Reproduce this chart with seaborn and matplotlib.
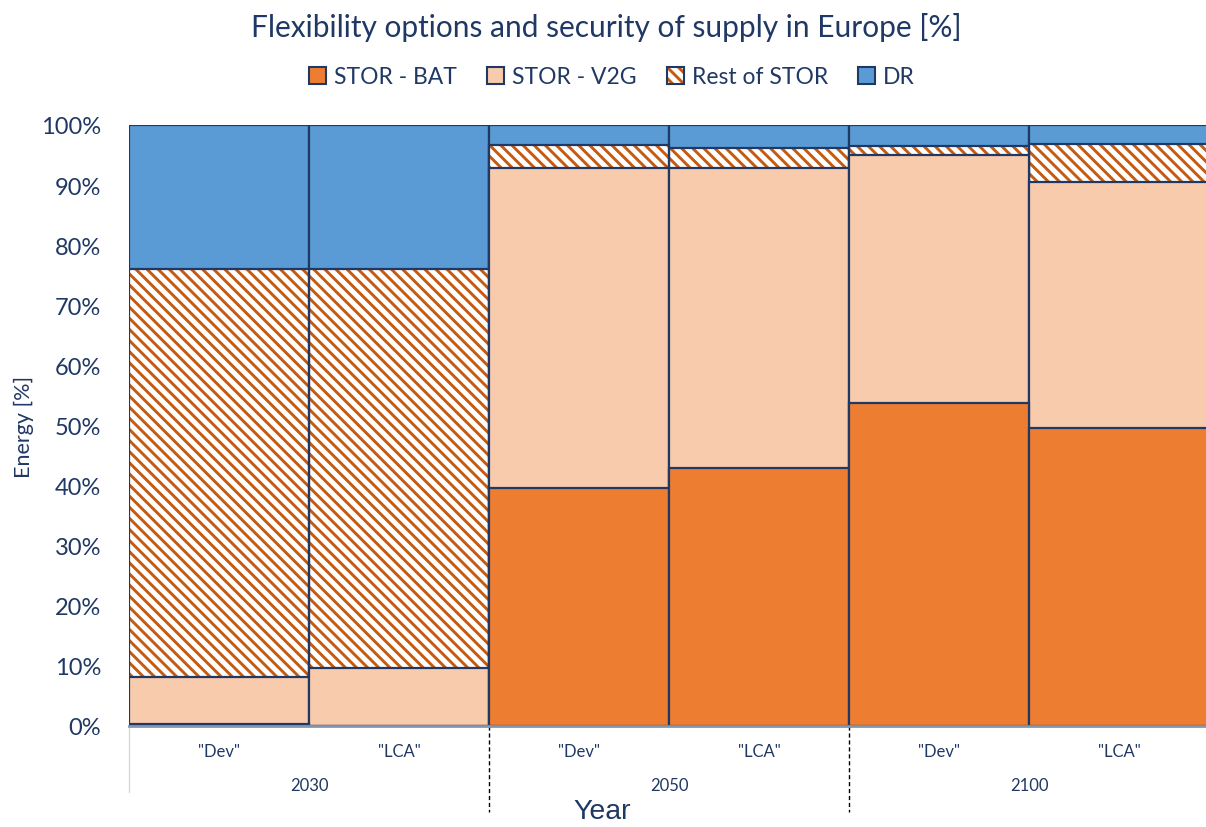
import matplotlib
matplotlib.use("Agg")
import matplotlib.pyplot as plt
import seaborn as sns
from matplotlib.patches import Patch
from matplotlib.legend_handler import HandlerTuple
from matplotlib.ticker import FuncFormatter

# ---- data ----
years = ["2030", "2030", "2050", "2050", "2100", "2100"]
scenarios = ['"Dev"', '"LCA"', '"Dev"', '"LCA"', '"Dev"', '"LCA"']
year_groups = ["2030", "2050", "2100"]
stor_bat = [0.3, 0.0, 39.6, 42.9, 53.7, 49.6]
stor_v2g = [7.9, 9.7, 53.2, 49.9, 41.3, 40.9]
rest_stor = [67.8, 66.3, 3.9, 3.4, 1.5, 6.3]
dr = [24.0, 24.0, 3.3, 3.8, 3.5, 3.2]
series_names = ["STOR - BAT", "STOR - V2G", "Rest of STOR", "DR"]
yticks = list(range(0, 101, 10))

# ---- style ----
C_BAT = "#ED7D31"
C_V2G = "#F8CBAD"
C_HATCH = "#C55A11"
C_DR = "#5B9BD5"
NAVY = "#1F3864"
sns.set_theme(style="white")
plt.rcParams["font.family"] = ["Lato", "DejaVu Sans"]
plt.rcParams["hatch.linewidth"] = 2.1

keys = [f"{y} {s}" for y, s in zip(years, scenarios)]
c_bat = stor_bat
c_v2g = [a + b for a, b in zip(c_bat, stor_v2g)]
c_rest = [a + b for a, b in zip(c_v2g, rest_stor)]
c_dr = [a + b for a, b in zip(c_rest, dr)]

fig = plt.figure(figsize=(12.06, 8.28), dpi=100)
ax = fig.add_axes([129 / 1206, 1 - 727 / 828, 1 - 129 / 1206, (727 - 126) / 828])

ax.axhline(100, color="#D0D0D0", lw=1, zorder=0)


def layer(vals, face, edge=NAVY, lw=1.6, hatch=None):
    n0 = len(ax.patches)
    sns.barplot(x=keys, y=vals, order=keys, color=face, width=1.0,
                saturation=1, ax=ax)
    for p in ax.patches[n0:]:
        p.set_facecolor(face)
        p.set_edgecolor(edge)
        p.set_linewidth(lw)
        if hatch:
            p.set_hatch(hatch)


layer(c_dr, C_DR)
layer(c_rest, "white", edge=C_HATCH, lw=0, hatch="\\\\\\")
layer(c_rest, "none")
layer(c_v2g, C_V2G)
layer(c_bat, C_BAT)

ax.set_xlim(-0.5, 5.483)
ax.set_ylim(0, 100)
ax.set_yticks(yticks)
ax.yaxis.set_major_formatter(FuncFormatter(lambda v, p: f"{int(v)}%"))
ax.tick_params(axis="y", length=0, pad=20, labelsize=17, labelcolor=NAVY)
ax.set_xticks([])
ax.set_xlabel("")
for s in ["top", "right", "left"]:
    ax.spines[s].set_visible(False)
ax.spines["bottom"].set_color("#8497B0")
ax.spines["bottom"].set_linewidth(2)
ax.set_ylabel("Energy [%]", fontsize=15.5, color=NAVY)
ax.yaxis.set_label_coords(-0.088, 0.5)

# multi-level category axis
tr = ax.get_xaxis_transform()
h = 601.0
for i, s in enumerate(scenarios):
    ax.text(i, -25 / h, s, transform=tr, ha="center", va="center",
            fontsize=12, color=NAVY)
for g, yr in enumerate(year_groups):
    ax.text(2 * g + 0.5, -59 / h, yr, transform=tr, ha="center", va="center",
            fontsize=12, color=NAVY)
ax.plot([-0.5, -0.5], [0, -66 / h], transform=tr, color="#D9D9D9", lw=1,
        clip_on=False)
for xb in [1.5, 3.5]:
    ax.plot([xb, xb], [0, -86 / h], transform=tr, color="black", lw=1,
            ls=(0, (3, 2)), clip_on=False)

fig.text(602 / 1206, 1 - 812 / 828, "Year", ha="center", va="center",
         fontsize=20.5, color=NAVY, family=["Liberation Sans", "DejaVu Sans"])
fig.text(606 / 1206, 1 - 28 / 828,
         "Flexibility options and security of supply in Europe [%]",
         ha="center", va="center", fontsize=21.5, color=NAVY)

h_rest = (Patch(facecolor="white", edgecolor=C_HATCH, lw=0, hatch="\\\\\\"),
          Patch(facecolor="none", edgecolor=NAVY, lw=1.5))
handles = [
    Patch(facecolor=C_BAT, edgecolor=NAVY, lw=1.5),
    Patch(facecolor=C_V2G, edgecolor=NAVY, lw=1.5),
    h_rest,
    Patch(facecolor=C_DR, edgecolor=NAVY, lw=1.5),
]
leg = fig.legend(handles, series_names, loc="center", ncol=4,
                 bbox_to_anchor=(612 / 1206, 1 - 78 / 828), frameon=False,
                 fontsize=16.5, handlelength=0.75, handleheight=0.75,
                 handletextpad=0.35, columnspacing=1.3,
                 handler_map={tuple: HandlerTuple(ndivide=1, pad=0)})
for t in leg.get_texts():
    t.set_color(NAVY)

fig.savefig("out.png", dpi=100)
